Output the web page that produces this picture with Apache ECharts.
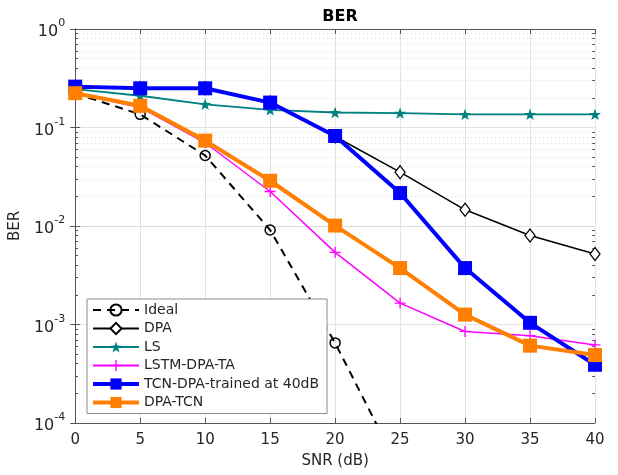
<!DOCTYPE html>
<html>
<head>
<meta charset="utf-8">
<script src="https://cdn.jsdelivr.net/npm/echarts@6/dist/echarts.min.js"></script>
<style>
  html, body { margin: 0; padding: 0; background: #fff; }
  #chart { width: 618px; height: 475px; }
</style>
</head>
<body>
<div id="chart"></div>
<script>
const snr = [0, 5, 10, 15, 20, 25, 30, 35, 40];
const ideal = [0.222, 0.136, 0.052, 0.0091, 0.00065, 0.000033, null, null, null];
const dpa = [0.25, 0.25, 0.25, 0.179, 0.081, 0.0352, 0.0146, 0.0080, 0.0052];
const ls = [0.245, 0.21, 0.172, 0.151, 0.142, 0.140, 0.136, 0.136, 0.136];
const lstm = [0.222, 0.160, 0.070, 0.0224, 0.0054, 0.00165, 0.00085, 0.00077, 0.00062];
const tcnTrained = [0.26, 0.25, 0.25, 0.179, 0.082, 0.0216, 0.00374, 0.00104, 0.00039];
const dpaTcn = [0.223, 0.166, 0.0736, 0.0288, 0.0101, 0.00374, 0.00126, 0.00061, 0.00049];

const font = 'DejaVu Sans';
const ink = '#262626';

const pairs = arr => snr.map((x, i) => [x, arr[i]]).filter(p => p[1] !== null);

// minor (2..9 x 10^k) grid positions of the log axis
const minors = [];
for (let k = -4; k < 0; k++) {
  for (let m = 2; m <= 9; m++) minors.push(+(m * Math.pow(10, k)).toPrecision(3));
}

const starPath = 'path://M0,-10 L2.35,-3.24 L9.51,-3.09 L3.8,1.24 L5.88,8.09 L0,4 L-5.88,8.09 L-3.8,1.24 L-9.51,-3.09 L-2.35,-3.24 Z';
const plusPath = 'path://M-0.6,-5 h1.2 v4.4 h4.4 v1.2 h-4.4 v4.4 h-1.2 v-4.4 h-4.4 v-1.2 h4.4 z';

const chart = echarts.init(document.getElementById('chart'));

const option = {
  animation: false,
  backgroundColor: '#fff',
  textStyle: { fontFamily: font },
  title: {
    text: 'BER',
    left: 335,
    textAlign: 'center',
    top: 4,
    textStyle: { fontFamily: font, fontSize: 16, fontWeight: 'bold', color: '#000' }
  },
  grid: { left: 75, right: 23, top: 29, bottom: 52 },
  legend: {
    orient: 'vertical',
    left: 87,
    top: 299,
    itemWidth: 46,
    itemHeight: 14,
    itemGap: 4.5,
    padding: [4, 8, 4, 4],
    backgroundColor: '#fff',
    borderColor: '#8c8c8c',
    borderWidth: 1,
    textStyle: { fontFamily: font, fontSize: 14, color: ink },
    data: [
      { name: 'Ideal', lineStyle: { width: 2 } },
      { name: 'DPA', lineStyle: { width: 2 } },
      { name: 'LS', lineStyle: { width: 2 } },
      { name: 'LSTM-DPA-TA', lineStyle: { width: 2 } },
      { name: 'TCN-DPA-trained at 40dB', lineStyle: { width: 4 } },
      { name: 'DPA-TCN', lineStyle: { width: 4 } }
    ]
  },
  xAxis: [{
    type: 'value',
    min: 0, max: 40, interval: 5,
    name: 'SNR (dB)',
    nameLocation: 'middle',
    nameGap: 31,
    nameTextStyle: { fontFamily: font, fontSize: 15, color: ink },
    axisLine: { onZero: false, lineStyle: { color: '#555', width: 1 } },
    axisTick: { inside: true, length: 5, lineStyle: { color: '#555' } },
    axisLabel: { fontFamily: font, fontSize: 15, color: ink, margin: 10 },
    splitLine: { show: true, lineStyle: { color: '#e3e3e3', width: 1 } }
  }, {
    type: 'value',
    position: 'top',
    min: 0, max: 40, interval: 5,
    axisLine: { onZero: false, lineStyle: { color: '#555', width: 1 } },
    axisTick: { inside: true, length: 5, lineStyle: { color: '#555' } },
    axisLabel: { show: false },
    splitLine: { show: false }
  }],
  yAxis: [{
    type: 'log',
    logBase: 10,
    min: 1e-4, max: 1,
    name: 'BER',
    nameLocation: 'middle',
    nameGap: 48,
    nameTextStyle: { fontFamily: font, fontSize: 15, color: ink },
    axisLine: { lineStyle: { color: '#555', width: 1 } },
    axisTick: { inside: true, length: 5, lineStyle: { color: '#555' } },
    axisLabel: {
      margin: 10,
      formatter: v => '{b|10}{s|' + Math.round(Math.log10(v)) + '}',
      rich: {
        b: { fontFamily: font, fontSize: 16, color: ink, lineHeight: 22, verticalAlign: 'bottom' },
        s: { fontFamily: font, fontSize: 11, color: ink, lineHeight: 22, verticalAlign: 'top', padding: [0, 0, 8, 0] }
      }
    },
    splitLine: { show: true, lineStyle: { color: '#e3e3e3', width: 1 } }
  }, {
    type: 'log',
    logBase: 10,
    min: 1e-4, max: 1,
    position: 'right',
    axisLine: { lineStyle: { color: '#555', width: 1 } },
    axisTick: { inside: true, length: 5, lineStyle: { color: '#555' } },
    axisLabel: { show: false },
    splitLine: { show: false }
  }],
  series: [
    {
      name: 'grid-minor',
      type: 'line',
      data: [],
      silent: true,
      z: 0,
      markLine: {
        silent: true,
        z: 0,
        symbol: 'none',
        animation: false,
        label: { show: false },
        lineStyle: { color: '#d4d4d4', type: [1, 3], width: 1 },
        data: minors.map(v => ({ yAxis: v }))
      }
    },
    {
      name: 'axis-minor-ticks',
      type: 'line',
      data: [],
      silent: true,
      z: 0,
      markLine: {
        silent: true,
        z: 1,
        symbol: 'none',
        animation: false,
        label: { show: false },
        lineStyle: { color: '#555', type: 'solid', width: 1 },
        data: minors.map(v => [{ coord: [0, v] }, { coord: [0.22, v] }])
          .concat(minors.map(v => [{ coord: [39.78, v] }, { coord: [40, v] }]))
      }
    },
    {
      name: 'Ideal',
      type: 'line',
      data: pairs(ideal),
      symbol: 'circle',
      symbolSize: 10,
      lineStyle: { color: '#000', width: 2, type: [8, 6] },
      itemStyle: { color: 'rgba(255,255,255,0)', borderColor: '#000', borderWidth: 1.5 },
      z: 2
    },
    {
      name: 'DPA',
      type: 'line',
      data: pairs(dpa),
      symbol: 'diamond',
      symbolSize: [10, 13],
      lineStyle: { color: '#000', width: 1.5 },
      itemStyle: { color: '#fff', borderColor: '#000', borderWidth: 1.3 },
      z: 3
    },
    {
      name: 'LS',
      type: 'line',
      data: pairs(ls),
      symbol: starPath,
      symbolKeepAspect: true,
      symbolSize: 12,
      lineStyle: { color: '#008080', width: 1.8 },
      itemStyle: { color: '#008080' },
      z: 4
    },
    {
      name: 'LSTM-DPA-TA',
      type: 'line',
      data: pairs(lstm),
      symbol: plusPath,
      symbolKeepAspect: true,
      symbolSize: 11,
      lineStyle: { color: '#ff00ff', width: 1.5 },
      itemStyle: { color: '#ff00ff' },
      z: 5
    },
    {
      name: 'TCN-DPA-trained at 40dB',
      type: 'line',
      data: pairs(tcnTrained),
      symbol: 'rect',
      symbolSize: 14,
      lineStyle: { color: '#0000ff', width: 4 },
      itemStyle: { color: '#0000ff' },
      z: 6
    },
    {
      name: 'DPA-TCN',
      type: 'line',
      data: pairs(dpaTcn),
      symbol: 'rect',
      symbolSize: 14,
      lineStyle: { color: '#ff8000', width: 4 },
      itemStyle: { color: '#ff8000' },
      z: 7
    }
  ]
};

chart.setOption(option);
window.addEventListener('resize', chart.resize);
</script>
</body>
</html>
